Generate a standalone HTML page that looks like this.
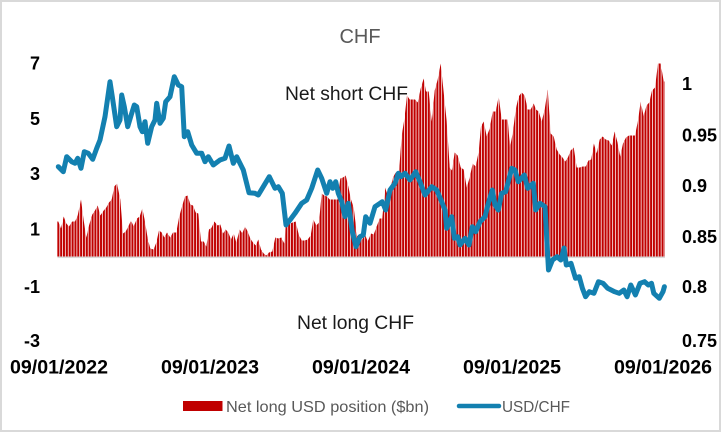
<!DOCTYPE html>
<html>
<head>
<meta charset="utf-8">
<style>
html,body{margin:0;padding:0;background:#fff;}
svg{display:block;}
text{font-family:"Liberation Sans",Arial,sans-serif;}
</style>
</head>
<body>
<svg width="722" height="433" viewBox="0 0 722 433" xmlns="http://www.w3.org/2000/svg">
<defs>
<pattern id="gaps" x="57.3" y="0" width="2.85" height="433" patternUnits="userSpaceOnUse">
<rect x="2.1" y="0" width="0.75" height="433" fill="#ffffff"/>
</pattern>
</defs>
<rect x="0" y="0" width="722" height="433" fill="#fff"/>
<rect x="1" y="1" width="719" height="430" fill="none" stroke="#d9d9d9" stroke-width="2"/>

<text x="360" y="43" font-size="20" fill="#595959" text-anchor="middle">CHF</text>

<rect x="57.5" y="256.5" width="607.5" height="1.6" fill="#d9d9d9"/>

<polygon fill="#C00000" points="57.3,256.5 57.3,221.5 58.3,221.5 61,228.5 63.7,216.5 66.3,223.5 69,226.5 72.3,221.5 75,221.5 77.7,215.5 81,199.5 83.7,220.5 86.3,237.5 89,225.5 92.3,214.5 95,210.5 97.7,205.5 100.3,215.5 103.7,210.5 106.3,207.5 109,202.5 111.7,199.5 114.3,186.5 117,183.5 120.3,199.5 123,233.5 125.7,231.5 128.3,226.5 131,220.5 133.7,226.5 137,218.5 139.7,216.5 142.3,208.5 145,221.5 147.7,238.5 150.3,248.5 153.7,249.5 156.3,242.5 159,230.5 161.7,232.5 164.3,237.5 167,232.5 170.3,237.5 173,232.5 176.3,232.5 179,217.5 182.3,205.5 185,196.5 187.7,195.5 190.3,204.5 193,205.5 195.7,212.5 198.3,213.5 201,241.5 203.7,241.5 206.3,246.5 209,229.5 211.7,227.5 214.3,221.5 217.7,225.5 220.3,224.5 223,233.5 225.7,229.5 228.3,232.5 231,239.5 233.7,233.5 236.3,242.5 239.7,229.5 242.3,233.5 245,226.5 247.7,231.5 250.3,238.5 253,242.5 255.7,245.5 258.3,239.5 261,249.5 263.7,253.5 266.3,255.5 269,252.5 272.3,251.5 275.3,237.5 278.3,238.5 281.3,237.5 284.3,243.5 286.7,214.5 290,223.5 292.7,222.5 295.7,221.5 298.7,234.5 301.7,240.5 304.7,240.5 307.7,239.5 310.7,235.5 313.3,219.5 316.3,225.5 319,222.5 321.7,193.5 324.3,195.5 327,196.5 329.7,199.5 332.3,199.5 335,199.5 337.7,199.5 340.3,178.5 343,177.5 345.7,175.5 348.3,186.5 351,199.5 353.7,207.5 357,235.5 359.7,240.5 362.3,239.5 365,234.5 367.7,241.5 371,233.5 373.7,234.5 376.3,227.5 379.7,218.5 382.3,218.5 385,187.5 387.7,195.5 390.3,188.5 393,177.5 395.7,172.5 399,172.5 401.7,135.5 404.3,119.5 407,95.5 409.7,99.5 412.3,99.5 415,99.5 417.7,102.5 420.7,88.5 423.7,78.5 426,91.5 428.7,91.5 431.7,121.5 434.7,90.5 437.7,79.5 440.7,63.5 443.7,92.5 446.7,121.5 449.7,167.5 452,170.5 454.7,152.5 457.7,155.5 460.7,167.5 463.7,169.5 466.7,187.5 469.7,177.5 472.7,163.5 475.7,166.5 478.7,151.5 481,126.5 483.7,121.5 486.7,136.5 489.7,128.5 492.7,111.5 495.7,111.5 498.7,96.5 501.7,119.5 504.7,119.5 507.7,119.5 510,147.5 513,131.5 515.7,109.5 518.7,96.5 521.7,92.5 524.7,95.5 527.7,109.5 530.7,109.5 533.7,103.5 536,109.5 538.7,111.5 541.7,121.5 544.7,109.5 547.7,89.5 550.7,133.5 553.7,136.5 556.7,149.5 559.7,154.5 562.5,157.5 565.2,161.5 567.9,157.5 570.7,150.5 573.7,147.5 576.7,167.5 579.7,167.5 582.7,166.5 585.7,166.5 588.5,160.5 591.2,159.5 593.9,143.5 596.7,153.5 599.7,139.5 602.7,136.5 605.7,139.5 608.7,140.5 611.7,145.5 614.7,131.5 617.5,142.5 620.2,156.5 623,143.5 626,137.5 629,135.5 632,135.5 635,135.5 638,120.5 640.7,101.5 643.7,116.5 646.5,105.5 649.3,102.5 652,90.5 655,87.5 658,63.5 660.7,63.5 663.7,81.5 664.8,81.5 664.8,256.5"/>
<rect x="57.3" y="55" width="608" height="201.5" fill="url(#gaps)"/>

<polyline fill="none" stroke="#1380B0" stroke-width="5" stroke-linejoin="round" stroke-linecap="round" points="58.3,166.7 63.3,171.7 66.7,156.7 71.7,161.7 75,163.3 77.7,158.3 81,168.3 84.3,151.7 88.3,153.3 92.7,159.3 96.7,148.3 100,140 105,116.7 110,81.7 112.3,96.7 116.7,126.7 120,120 121.7,95 124.3,106.7 127.7,126.7 131.7,113.3 134.3,105 136.7,106.7 140,126.7 142.3,131.7 145,121.7 147.7,143.3 151.7,126.7 155,120 156.7,103.3 160,123.3 163.3,118.3 165.7,101.7 170,96.7 174.3,76.7 178.3,85 181.7,86.7 184.3,136.7 187.7,131.7 191.7,145 196.7,153.3 201.7,153.3 205,161.7 208.3,156.7 213.3,165 220,160 225,158.3 229,146 233.3,163.3 236.7,156.7 243.3,170 249,192.7 255,193.3 258.3,195 262.3,188.3 269.3,176.7 275,188.3 278.3,186.7 282.3,193.3 286,225 290,220 295,213.3 301.7,203.3 306.7,200 311.7,188.3 317.7,170 321.7,178.3 326.7,193.3 330,181.7 332.7,188.3 335.7,181.7 338.3,193.3 341.7,201.7 345,216.7 348.3,203.3 352.3,231.7 356,246.7 360,236.7 363.3,235 365.7,216.7 370,223.3 375,206.7 380,203.3 382.3,201.7 385.7,210 390,190 395,183.3 398.3,173.3 401,176.7 405,173.3 410,180 415.7,171.7 420,181.7 425,195 431.7,186.7 436.7,190 441,200 445,210 446.7,228.3 451.7,216.7 454.3,238.3 457.7,236.7 460,245 465,238.3 469,245 472.3,226.7 475.7,231.7 480,221.7 485,216.7 488.3,203.3 492.3,190 495,205 498.3,210 501.7,193.3 505.7,191.7 511.7,168.3 515,170 518.3,181.7 524.3,175 527.7,188.3 533.3,183.3 535.7,210 540,203.3 545,206.7 548.5,270 552.5,260 557,256.7 560.8,260 564,248 566.3,265 571,263.3 575.5,278.3 579.2,276.7 582.4,288.3 585.6,296.7 589.3,291.7 593.9,293.3 598.5,281.7 603.1,283.3 607.7,288.3 614.6,291.7 619.2,293.3 623.8,290 627.1,296.7 630.8,285 635.4,295 640,283.3 644.6,281.7 648.3,285 651.5,283.3 653.8,293.3 659.3,298.3 663,291.7 664.4,286.7"/>

<text x="285" y="100" font-size="19" fill="#1a1a1a" textLength="123" lengthAdjust="spacingAndGlyphs">Net short CHF</text>
<text x="297" y="329" font-size="19" fill="#1a1a1a" textLength="117" lengthAdjust="spacingAndGlyphs">Net long CHF</text>

<g font-size="18" font-weight="bold" fill="#000" text-anchor="end">
<text x="40" y="69.5">7</text>
<text x="40" y="125">5</text>
<text x="40" y="180">3</text>
<text x="40" y="235.5">1</text>
<text x="40" y="293">-1</text>
<text x="40" y="347">-3</text>
</g>

<g font-size="18" font-weight="bold" fill="#000">
<text x="682" y="90">1</text>
<text x="682" y="141.5">0.95</text>
<text x="682" y="192">0.9</text>
<text x="682" y="243">0.85</text>
<text x="682" y="293">0.8</text>
<text x="682" y="347">0.75</text>
</g>

<g font-size="19" font-weight="bold" fill="#000">
<text x="10" y="373.5" textLength="98" lengthAdjust="spacingAndGlyphs">09/01/2022</text>
<text x="161" y="373.5" textLength="98" lengthAdjust="spacingAndGlyphs">09/01/2023</text>
<text x="312" y="373.5" textLength="98" lengthAdjust="spacingAndGlyphs">09/01/2024</text>
<text x="463" y="373.5" textLength="98" lengthAdjust="spacingAndGlyphs">09/01/2025</text>
<text x="614" y="373.5" textLength="98" lengthAdjust="spacingAndGlyphs">09/01/2026</text>
</g>

<rect x="183" y="401" width="39.5" height="10" fill="#C00000"/>
<text x="226" y="412" font-size="16" fill="#595959" textLength="203" lengthAdjust="spacingAndGlyphs">Net long USD position ($bn)</text>
<line x1="459" y1="406" x2="499" y2="406" stroke="#1380B0" stroke-width="4.5" stroke-linecap="round"/>
<text x="502" y="412" font-size="16" fill="#595959" textLength="68" lengthAdjust="spacingAndGlyphs">USD/CHF</text>
</svg>
</body>
</html>
